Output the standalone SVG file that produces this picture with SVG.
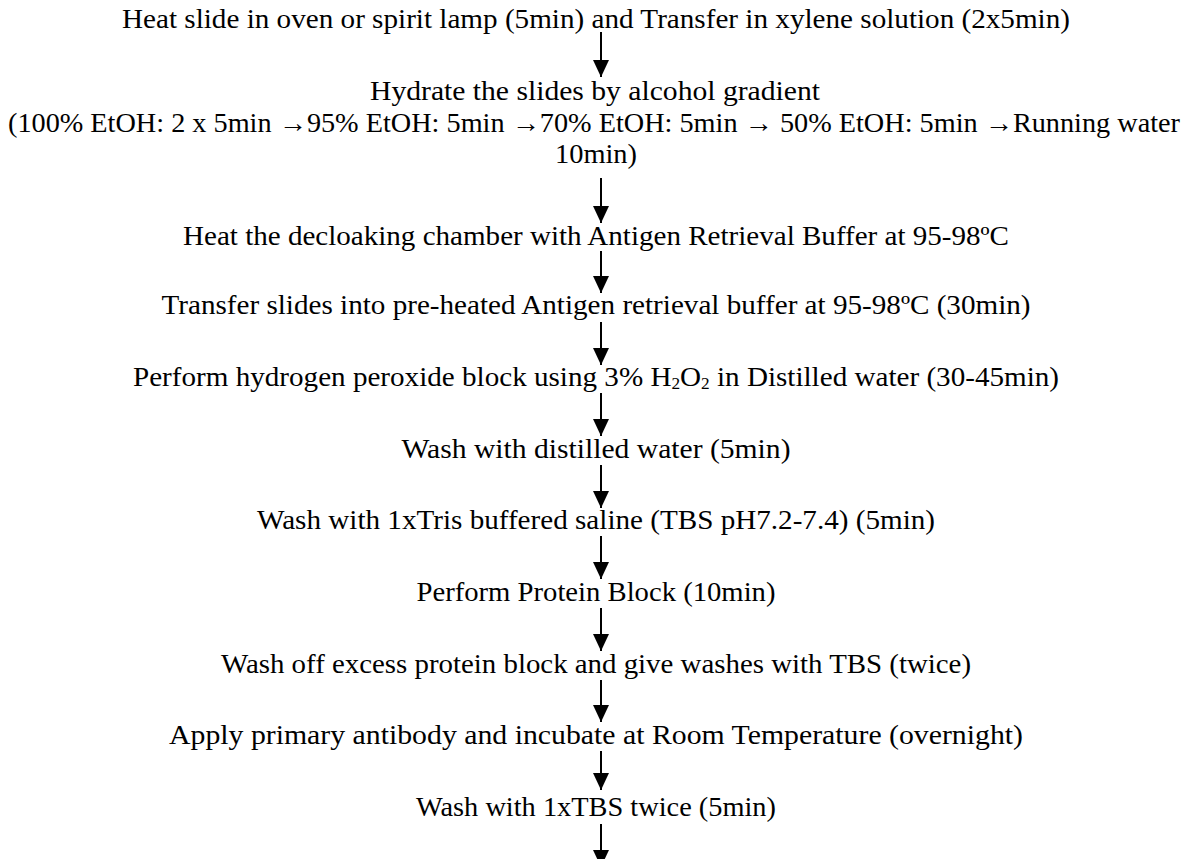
<svg xmlns="http://www.w3.org/2000/svg" width="1188" height="859" viewBox="0 0 1188 859">
<defs>
<style>
.t{font-family:"Liberation Serif","Times New Roman",serif;font-size:27px;fill:#000;text-anchor:middle}
.sub{font-size:16px}
.a{stroke:#000;stroke-width:2;fill:none}
</style>
<marker id="ah2" markerUnits="userSpaceOnUse" markerWidth="18" markerHeight="16" refX="17" refY="8" orient="auto" viewBox="0 0 18 16"><path d="M0,0 L17,8 L0,16 Z" fill="#000"/></marker>
</defs>
<rect width="1188" height="859" fill="#fff"/>
<g id="n1"><text class="t" x="596" y="28" textLength="948" lengthAdjust="spacingAndGlyphs">Heat slide in oven or spirit lamp (5min) and Transfer in xylene solution (2x5min)</text></g>
<g id="n2"><text class="t" x="595" y="100" textLength="450" lengthAdjust="spacingAndGlyphs">Hydrate the slides by alcohol gradient</text>
<text class="t" x="594" y="131.5" textLength="1172" lengthAdjust="spacingAndGlyphs">(100% EtOH: 2 x 5min →95% EtOH: 5min →70% EtOH: 5min → 50% EtOH: 5min →Running water</text>
<text class="t" x="596" y="163" textLength="82" lengthAdjust="spacingAndGlyphs">10min)</text></g>
<g id="n3"><text class="t" x="596" y="245" textLength="826" lengthAdjust="spacingAndGlyphs">Heat the decloaking chamber with Antigen Retrieval Buffer at 95-98ºC</text></g>
<g id="n4"><text class="t" x="596" y="314" textLength="869" lengthAdjust="spacingAndGlyphs">Transfer slides into pre-heated Antigen retrieval buffer at 95-98ºC (30min)</text></g>
<g id="n5"><text class="t" x="596" y="386" textLength="926" lengthAdjust="spacingAndGlyphs">Perform hydrogen peroxide block using 3% H<tspan class="sub" dy="3">2</tspan><tspan dy="-3">O</tspan><tspan class="sub" dy="3">2</tspan><tspan dy="-3"> in Distilled water (30-45min)</tspan></text></g>
<g id="n6"><text class="t" x="596" y="458" textLength="389" lengthAdjust="spacingAndGlyphs">Wash with distilled water (5min)</text></g>
<g id="n7"><text class="t" x="596" y="529" textLength="678" lengthAdjust="spacingAndGlyphs">Wash with 1xTris buffered saline (TBS pH7.2-7.4) (5min)</text></g>
<g id="n8"><text class="t" x="596" y="601" textLength="359" lengthAdjust="spacingAndGlyphs">Perform Protein Block (10min)</text></g>
<g id="n9"><text class="t" x="596" y="673" textLength="750" lengthAdjust="spacingAndGlyphs">Wash off excess protein block and give washes with TBS (twice)</text></g>
<g id="n10"><text class="t" x="596" y="744" textLength="854" lengthAdjust="spacingAndGlyphs">Apply primary antibody and incubate at Room Temperature (overnight)</text></g>
<g id="n11"><text class="t" x="596" y="816" textLength="360" lengthAdjust="spacingAndGlyphs">Wash with 1xTBS twice (5min)</text></g>
<g id="connectors">
<line class="a" x1="601" y1="32" x2="601" y2="77" marker-end="url(#ah2)"/>
<line class="a" x1="601" y1="178" x2="601" y2="223" marker-end="url(#ah2)"/>
<line class="a" x1="601" y1="251" x2="601" y2="293" marker-end="url(#ah2)"/>
<line class="a" x1="601" y1="322" x2="601" y2="365" marker-end="url(#ah2)"/>
<line class="a" x1="601" y1="393" x2="601" y2="436" marker-end="url(#ah2)"/>
<line class="a" x1="601" y1="465" x2="601" y2="508" marker-end="url(#ah2)"/>
<line class="a" x1="601" y1="536" x2="601" y2="579" marker-end="url(#ah2)"/>
<line class="a" x1="601" y1="608" x2="601" y2="651" marker-end="url(#ah2)"/>
<line class="a" x1="601" y1="680" x2="601" y2="722" marker-end="url(#ah2)"/>
<line class="a" x1="601" y1="751" x2="601" y2="790" marker-end="url(#ah2)"/>
<line class="a" x1="601" y1="824" x2="601" y2="867" marker-end="url(#ah2)"/>
</g>
</svg>
